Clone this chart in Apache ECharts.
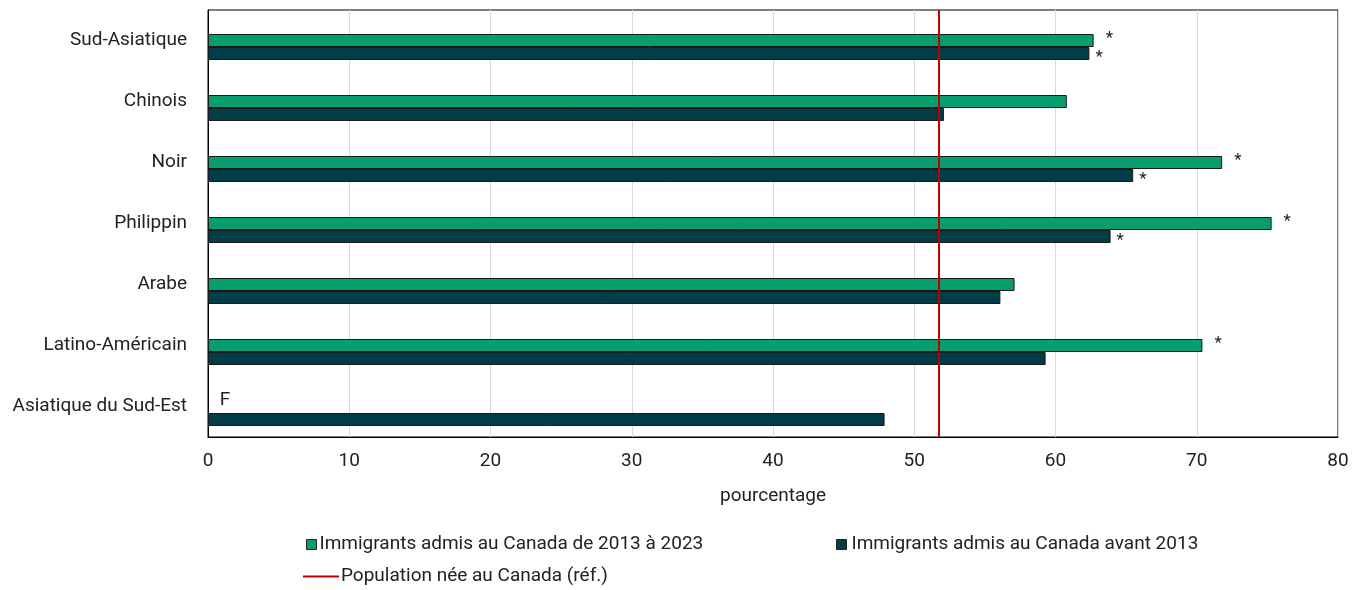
<!DOCTYPE html>
<html><head><meta charset="utf-8">
<script src="https://cdn.jsdelivr.net/npm/echarts@6/dist/echarts.min.js"></script>
<style>html,body{margin:0;padding:0;background:#fff}#c{width:1359px;height:590px}</style>
</head><body><div id="c"></div>
<script>
var categories = ['Sud-Asiatique','Chinois','Noir','Philippin','Arabe','Latino-Américain','Asiatique du Sud-Est'];
var recent = [62.7, 60.8, 71.8, 75.3, 57.1, 70.4, null];
var before = [62.4, 52.1, 65.5, 63.9, 56.1, 59.3, 47.9];
var recentNotes = ['*','','*','*','','*','F'];
var beforeNotes = ['*','','*','*','','',''];
var refValue = 51.7;
var xTicks = [0,10,20,30,40,50,60,70,80];
var names = ['Immigrants admis au Canada de 2013 à 2023','Immigrants admis au Canada avant 2013','Population née au Canada (réf.)'];

var FONT = "Roboto";
var FS = 19;
var chart = echarts.init(document.getElementById('c'));
var fPoints = [];
recent.forEach(function(v,i){ if (v === null && recentNotes[i]) fPoints.push({coord:[0, categories[i]], value: recentNotes[i]}); });

chart.setOption({
  animation: false,
  textStyle: {fontFamily: FONT},
  grid: {left: 208, right: 21, top: 10, bottom: 153, show: true, borderColor: '#000', borderWidth: 1, containLabel: false},
  legend: [
    {data: [names[0]], left: 301, top: 530, icon: 'rect', itemWidth: 10, itemHeight: 10,
     textStyle: {fontFamily: FONT, fontSize: FS, color: '#222', padding: [0,0,0,-2]}, itemStyle: {borderColor: '#222', borderWidth: 1}},
    {data: [names[1]], left: 831, top: 530, icon: 'rect', itemWidth: 10, itemHeight: 10,
     textStyle: {fontFamily: FONT, fontSize: FS, color: '#222', padding: [0,0,0,0]}, itemStyle: {borderColor: '#222', borderWidth: 1}},
    {data: [names[2]], left: 298, top: 562, icon: 'rect', itemWidth: 36, itemHeight: 2,
     textStyle: {fontFamily: FONT, fontSize: FS, color: '#222', padding: [0,0,0,-3]}}
  ],
  xAxis: {
    type: 'value', min: xTicks[0], max: xTicks[xTicks.length-1], interval: 10,
    name: 'pourcentage', nameLocation: 'middle', nameGap: 50,
    nameTextStyle: {fontFamily: FONT, fontSize: FS, color: '#222'},
    axisLine: {show: true, lineStyle: {color: '#000'}}, axisTick: {show: false},
    axisLabel: {fontFamily: FONT, fontSize: FS, color: '#222', margin: 15},
    splitLine: {show: true, lineStyle: {color: '#d9d9d9', width: 1}}
  },
  yAxis: {
    type: 'category', data: categories, inverse: true,
    axisLine: {show: true, lineStyle: {color: '#000', width: 1}}, axisTick: {show: false},
    axisLabel: {fontFamily: FONT, fontSize: FS, color: '#222', margin: 21, padding: [4,0,0,0]}
  },
  series: [
    {name: names[2], type: 'bar', data: categories.map(function(){return null;}), barWidth: 13, barGap: '0%',
     itemStyle: {color: '#c00000'},
     markLine: {silent: true, symbol: 'none', label: {show: false},
       lineStyle: {color: '#c00000', width: 2, type: 'solid'}, data: [{xAxis: refValue}]}},
    {name: names[0], type: 'bar', data: recent, barWidth: 13, barGap: '0%',
     itemStyle: {color: '#079e6f', borderColor: '#1a1a1a', borderWidth: 1},
     label: {show: true, position: 'right', distance: 12, offset: [0, -2], fontFamily: FONT, fontSize: 17, color: '#222',
       formatter: function(p){ return recentNotes[p.dataIndex]; }},
     markPoint: {symbol: 'circle', symbolSize: 0, silent: true,
       label: {show: true, position: 'inside', offset: [17, -6], fontFamily: FONT, fontSize: FS, color: '#222',
         formatter: function(p){ return p.value; }},
       data: fPoints}},
    {name: names[1], type: 'bar', data: before, barWidth: 13, barGap: '0%',
     itemStyle: {color: '#013c47', borderColor: '#1a1a1a', borderWidth: 1},
     label: {show: true, position: 'right', distance: 6, offset: [0, 4], fontFamily: FONT, fontSize: 17, color: '#222',
       formatter: function(p){ return beforeNotes[p.dataIndex]; }}}
  ]
});
</script></body></html>
